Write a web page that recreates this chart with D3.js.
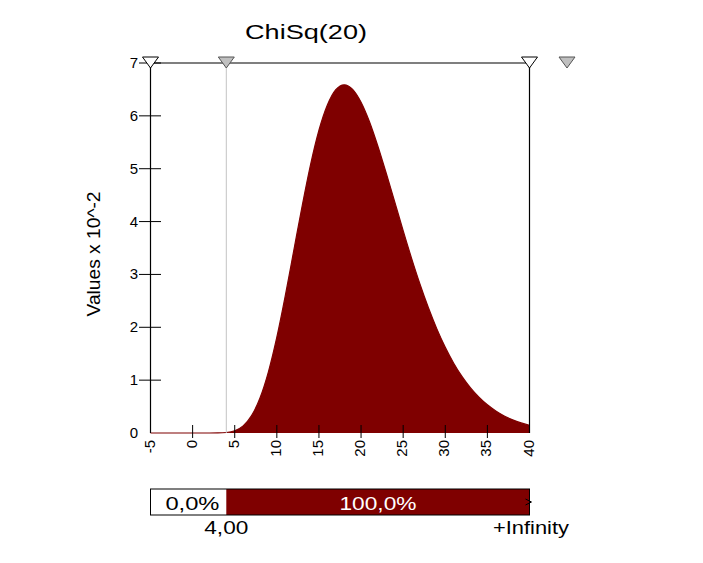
<!DOCTYPE html>
<html>
<head>
<meta charset="utf-8">
<script src="https://cdn.jsdelivr.net/npm/d3@7"></script>
<style>
  html, body { margin: 0; padding: 0; background: #fff; }
  svg { display: block; }
  text { font-family: "Liberation Sans", Arial, sans-serif; fill: #000; }
</style>
</head>
<body>
<svg id="chart" width="703" height="563"></svg>
<script>
// ---- data ----
const title = "ChiSq(20)";
const yAxisLabel = "Values x 10^-2";
const xTickValues = [-5, 0, 5, 10, 15, 20, 25, 30, 35, 40];
const yTickValues = [0, 1, 2, 3, 4, 5, 6, 7];
const densityX = [-5, -4, -3, -2, -1, 0, 1, 2, 3, 4, 5, 6, 7, 8, 9, 10, 11, 12, 13, 14, 15, 16, 17, 18, 19, 20,
  21, 22, 23, 24, 25, 26, 27, 28, 29, 30, 31, 32, 33, 34, 35, 36, 37, 38, 39, 40];
const densityY = [0, 0, 0, 0, 0, 0, 0, 0.0001, 0.0012, 0.0095, 0.043, 0.135, 0.328, 0.662, 1.158, 1.813,
  2.594, 3.443, 4.290, 5.074, 5.727, 6.204, 6.495, 6.588, 6.502, 6.258, 5.889, 5.426, 4.909, 4.372, 3.828,
  3.304, 2.815, 2.369, 1.970, 1.621, 1.320, 1.065, 0.853, 0.677, 0.533, 0.417, 0.323, 0.249, 0.191, 0.145];
const leftMarker = 4.0;
const barSegmentLabels = ["0,0%", "100,0%"];
const barBoundaryLabels = ["4,00", "+Infinity"];

const svg = d3.select("#chart");
const darkRed = "#7f0000";

const x = d3.scaleLinear().domain([-5, 40]).range([150.5, 529.5]);
const y = d3.scaleLinear().domain([0, 7]).range([433, 63]);

const pts = densityX.map((v, i) => ({ x: v, y: densityY[i] }));

// title
svg.append("text").attr("x", 306).attr("y", 39).attr("text-anchor", "middle")
  .attr("font-size", 21).attr("textLength", 122).attr("lengthAdjust", "spacingAndGlyphs")
  .text(title);

// y axis label
svg.append("text").attr("transform", "translate(100,254) rotate(-90)")
  .attr("text-anchor", "middle").attr("font-size", 18)
  .attr("textLength", 125).attr("lengthAdjust", "spacingAndGlyphs")
  .text(yAxisLabel);

// filled area (x >= marker)
const area = d3.area().x(d => x(d.x)).y0(y(0)).y1(d => y(d.y)).curve(d3.curveMonotoneX);
svg.append("path").datum(pts.filter(d => d.x >= leftMarker))
  .attr("d", area).attr("fill", darkRed);

// density line
const line = d3.line().x(d => x(d.x)).y(d => y(d.y)).curve(d3.curveMonotoneX);
svg.append("path").datum(pts).attr("d", line).attr("fill", "none")
  .attr("stroke", darkRed).attr("stroke-width", 1.2);

// gray marker line
svg.append("line").attr("x1", x(leftMarker)).attr("x2", x(leftMarker))
  .attr("y1", y(7)).attr("y2", y(0)).attr("stroke", "#c4c4c4").attr("stroke-width", 1);

// frame: left axis, top, right
svg.append("line").attr("x1", x(-5)).attr("x2", x(-5)).attr("y1", y(7)).attr("y2", y(0))
  .attr("stroke", "#000").attr("stroke-width", 1.2);
svg.append("line").attr("x1", x(-5)).attr("x2", x(40)).attr("y1", y(7)).attr("y2", y(7))
  .attr("stroke", "#000").attr("stroke-width", 1.2);
svg.append("line").attr("x1", x(40)).attr("x2", x(40)).attr("y1", y(7)).attr("y2", y(0))
  .attr("stroke", "#000").attr("stroke-width", 1.2);

// y ticks & labels
const yg = svg.append("g");
yg.selectAll("line").data(yTickValues.filter(v => v > 0)).join("line")
  .attr("x1", 139).attr("x2", 161).attr("y1", d => y(d)).attr("y2", d => y(d))
  .attr("stroke", "#000").attr("stroke-width", 1);
yg.selectAll("text").data(yTickValues).join("text")
  .attr("x", 138).attr("y", d => y(d) + 5).attr("text-anchor", "end")
  .attr("font-size", 15).text(d => d);

// x ticks & labels
const xg = svg.append("g");
xg.selectAll("line").data(xTickValues.filter(v => v > -5 && v < 40)).join("line")
  .attr("x1", d => x(d)).attr("x2", d => x(d)).attr("y1", 425).attr("y2", 438)
  .attr("stroke", "#000").attr("stroke-width", 1);
xg.selectAll("text").data(xTickValues).join("text")
  .attr("transform", d => `translate(${x(d) + 4},440) rotate(-90)`)
  .attr("text-anchor", "end").attr("font-size", 15).text(d => d);

// marker triangles
function tri(cx, fill, stroke) {
  svg.append("path")
    .attr("d", `M${cx - 8},57 L${cx + 8},57 L${cx},68 Z`)
    .attr("fill", fill).attr("stroke", stroke).attr("stroke-width", 1);
}
tri(x(-5), "#fff", "#000");
tri(x(leftMarker), "#c0c0c0", "#555");
tri(x(40), "#fff", "#000");
tri(567, "#c0c0c0", "#555");

// bottom probability bar
const barTop = 489, barH = 26;
svg.append("rect").attr("x", x(-5)).attr("y", barTop).attr("width", x(leftMarker) - x(-5)).attr("height", barH)
  .attr("fill", "#fff");
svg.append("rect").attr("x", x(leftMarker)).attr("y", barTop).attr("width", x(40) - x(leftMarker)).attr("height", barH)
  .attr("fill", darkRed);
svg.append("rect").attr("x", x(-5)).attr("y", barTop).attr("width", x(40) - x(-5)).attr("height", barH)
  .attr("fill", "none").attr("stroke", "#000").attr("stroke-width", 1);

svg.append("text").attr("x", (x(-5) + x(leftMarker)) / 2 + 4).attr("y", 510).attr("text-anchor", "middle")
  .attr("font-size", 18).attr("textLength", 54).attr("lengthAdjust", "spacingAndGlyphs")
  .text(barSegmentLabels[0]);
svg.append("text").attr("x", 378).attr("y", 510).attr("text-anchor", "middle")
  .attr("font-size", 18).attr("textLength", 77).attr("lengthAdjust", "spacingAndGlyphs")
  .style("fill", "#fff").text(barSegmentLabels[1]);

// small arrow at right end of bar
svg.append("path").attr("d", `M${x(40) - 4},499 L${x(40) + 2},502 L${x(40) - 4},505`)
  .attr("fill", "none").attr("stroke", "#000").attr("stroke-width", 1);

svg.append("text").attr("x", x(leftMarker)).attr("y", 534).attr("text-anchor", "middle")
  .attr("font-size", 18).attr("textLength", 44).attr("lengthAdjust", "spacingAndGlyphs")
  .text(barBoundaryLabels[0]);
svg.append("text").attr("x", 569).attr("y", 534).attr("text-anchor", "end")
  .attr("font-size", 18).attr("textLength", 76).attr("lengthAdjust", "spacingAndGlyphs")
  .text(barBoundaryLabels[1]);
</script>
</body>
</html>
